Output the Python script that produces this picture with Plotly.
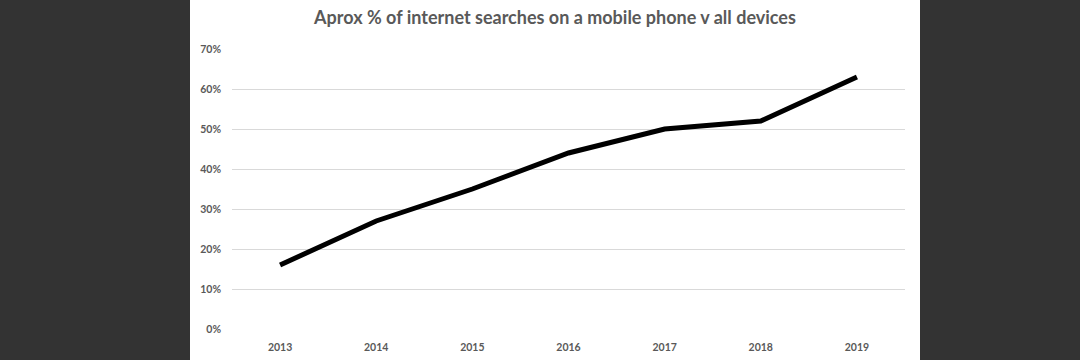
import plotly.graph_objects as go

years = ["2013", "2014", "2015", "2016", "2017", "2018", "2019"]
mobile_share = [0.16, 0.27, 0.35, 0.44, 0.50, 0.52, 0.63]
y_ticks = [0, 0.1, 0.2, 0.3, 0.4, 0.5, 0.6, 0.7]
title_text = "Aprox % of internet searches on a mobile phone v all devices"

W, H = 1080, 360
L, R, T, B = 232, 905, 49, 329
pw, ph = R - L, B - T

fig = go.Figure()
fig.add_trace(go.Scatter(
    x=years, y=mobile_share, mode="lines",
    line=dict(color="#000000", width=5),
    hoverinfo="skip",
))

grey = "#595959"
fig.update_layout(
    width=W, height=H,
    margin=dict(l=L, r=W - R, t=T, b=H - B, pad=0, autoexpand=False),
    paper_bgcolor="#333333",
    plot_bgcolor="#ffffff",
    showlegend=False,
    title=dict(text="<b>" + title_text + "</b>", x=555 / W, xanchor="center",
               y=1 - 18 / H, yanchor="middle",
               font=dict(family="Lato", size=18, color=grey)),
    shapes=[dict(type="rect", xref="paper", yref="paper", layer="below",
                 x0=(190 - L) / pw, x1=(920 - L) / pw,
                 y0=-(H - B) / ph - 0.01, y1=B / ph + 0.01,
                 fillcolor="#ffffff", line=dict(width=0))],
    xaxis=dict(type="category", range=[-0.5, 6.5], showgrid=False, zeroline=False,
               showline=False, ticks="", ticklabelstandoff=10,
               tickfont=dict(family="Lato", size=10.5, color=grey, weight="bold")),
    yaxis=dict(range=[0, 0.7], tickvals=y_ticks, tickformat=".0%",
               showgrid=True, gridcolor="#d9d9d9", gridwidth=1,
               zeroline=False, showline=False, ticks="", ticklabelstandoff=10,
               tickfont=dict(family="Lato", size=10.5, color=grey, weight="bold")),
)

fig.write_html("out.html", config={"displayModeBar": False},
               post_script="document.body.style.margin='0';document.body.style.overflow='hidden';")
